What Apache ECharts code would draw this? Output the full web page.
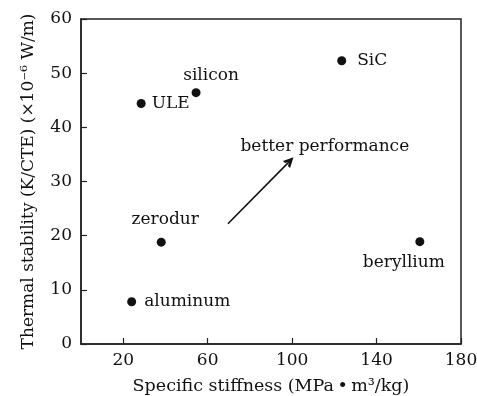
<!DOCTYPE html>
<html>
<head>
<meta charset="utf-8">
<script src="https://cdn.jsdelivr.net/npm/echarts@6/dist/echarts.min.js"></script>
<style>
html,body{margin:0;padding:0;background:#fff;}
#chart{width:477px;height:396px;}
</style>
</head>
<body>
<div id="chart"></div>
<script>
// ---- data ----
var materials = ['aluminum', 'zerodur', 'ULE', 'silicon', 'SiC', 'beryllium'];
var stiffness = [24, 38, 28.5, 54.5, 123.5, 160.5];
var thermalStability = [7.8, 18.8, 44.4, 46.4, 52.3, 18.9];
var xTickValues = [20, 60, 100, 140, 180];
var yTickValues = [0, 10, 20, 30, 40, 50, 60];
var arrowStart = [69.6, 22.2];
var arrowEnd = [99, 33.8];
var annotationText = ['better performance'];
var annotationPos = [[115.5, 36.5]];

// ---- styles (label placement) ----
var FONT = 'DejaVu Serif';
var INK = '#111';
var labelStyle = {
  aluminum: {position: 'right', distance: 8, offset: [0, 0]},
  zerodur: {position: 'top', distance: 5, offset: [4, -5]},
  ULE: {position: 'right', distance: 6, offset: [0, 0]},
  silicon: {position: 'top', distance: 5, offset: [15, 1]},
  SiC: {position: 'right', distance: 11, offset: [0, 0]},
  beryllium: {position: 'bottom', distance: 5, offset: [-16, 3]}
};

var pts = materials.map(function (m, i) {
  var s = labelStyle[m];
  return {
    name: m,
    value: [stiffness[i], thermalStability[i]],
    label: {show: true, formatter: m, position: s.position, distance: s.distance, offset: s.offset,
      fontFamily: FONT, fontSize: 17, color: INK}
  };
});

var chart = echarts.init(document.getElementById('chart'), null, {renderer: 'canvas'});
chart.setOption({
  animation: false,
  backgroundColor: '#fff',
  textStyle: {fontFamily: FONT, color: INK},
  grid: {left: 81, right: 16, top: 19, bottom: 52, containLabel: false, outerBoundsMode: 'none',
    show: true, borderColor: '#222', borderWidth: 1.5, backgroundColor: 'transparent'},
  xAxis: {
    type: 'value', min: 0, max: 180,
    name: 'Specific stiffness (MPa\u2009\u2022\u2009m\u00B3/kg)',
    nameLocation: 'middle', nameGap: 33,
    nameTextStyle: {fontFamily: FONT, fontSize: 17.5, color: INK},
    axisLine: {show: true, lineStyle: {color: '#222', width: 1.5}},
    axisTick: {show: true, inside: true, length: 6, customValues: xTickValues, lineStyle: {color: '#222', width: 1.2}},
    axisLabel: {customValues: xTickValues, margin: 8, fontFamily: FONT, fontSize: 17, color: INK},
    splitLine: {show: false}
  },
  yAxis: {
    type: 'value', min: 0, max: 60, interval: 10,
    name: 'Thermal stability (K/CTE) (\u00D710\u207B\u2076 W/m)',
    nameLocation: 'middle', nameGap: 44,
    nameTextStyle: {fontFamily: FONT, fontSize: 17, color: INK},
    axisLine: {show: true, lineStyle: {color: '#222', width: 1.5}},
    axisTick: {show: true, inside: true, length: 6, lineStyle: {color: '#222', width: 1.2}},
    axisLabel: {margin: 9, fontFamily: FONT, fontSize: 17, color: INK},
    splitLine: {show: false}
  },
  series: [
    {
      type: 'scatter',
      symbol: 'circle',
      symbolSize: 9,
      itemStyle: {color: '#111', opacity: 1},
      data: pts,
      z: 3
    },
    {
      type: 'scatter',
      symbolSize: 0,
      itemStyle: {color: 'rgba(0,0,0,0)', opacity: 1},
      label: {show: true, position: 'inside', fontFamily: FONT, fontSize: 17, color: INK,
        formatter: function (p) { return p.name; }},
      data: annotationText.map(function (t, i) { return {name: t, value: annotationPos[i]}; }),
      silent: true
    },
    {
      type: 'lines',
      coordinateSystem: 'cartesian2d',
      polyline: false,
      symbol: ['none', 'path://M0,10 L6,0 L12,10 L8.4,10 L6,5.8 L3.6,10 Z'],
      symbolSize: [12, 10],
      lineStyle: {color: '#111', width: 1.6, opacity: 1},
      data: [{coords: [arrowStart, arrowEnd]}],
      silent: true
    }
  ]
});
</script>
</body>
</html>
